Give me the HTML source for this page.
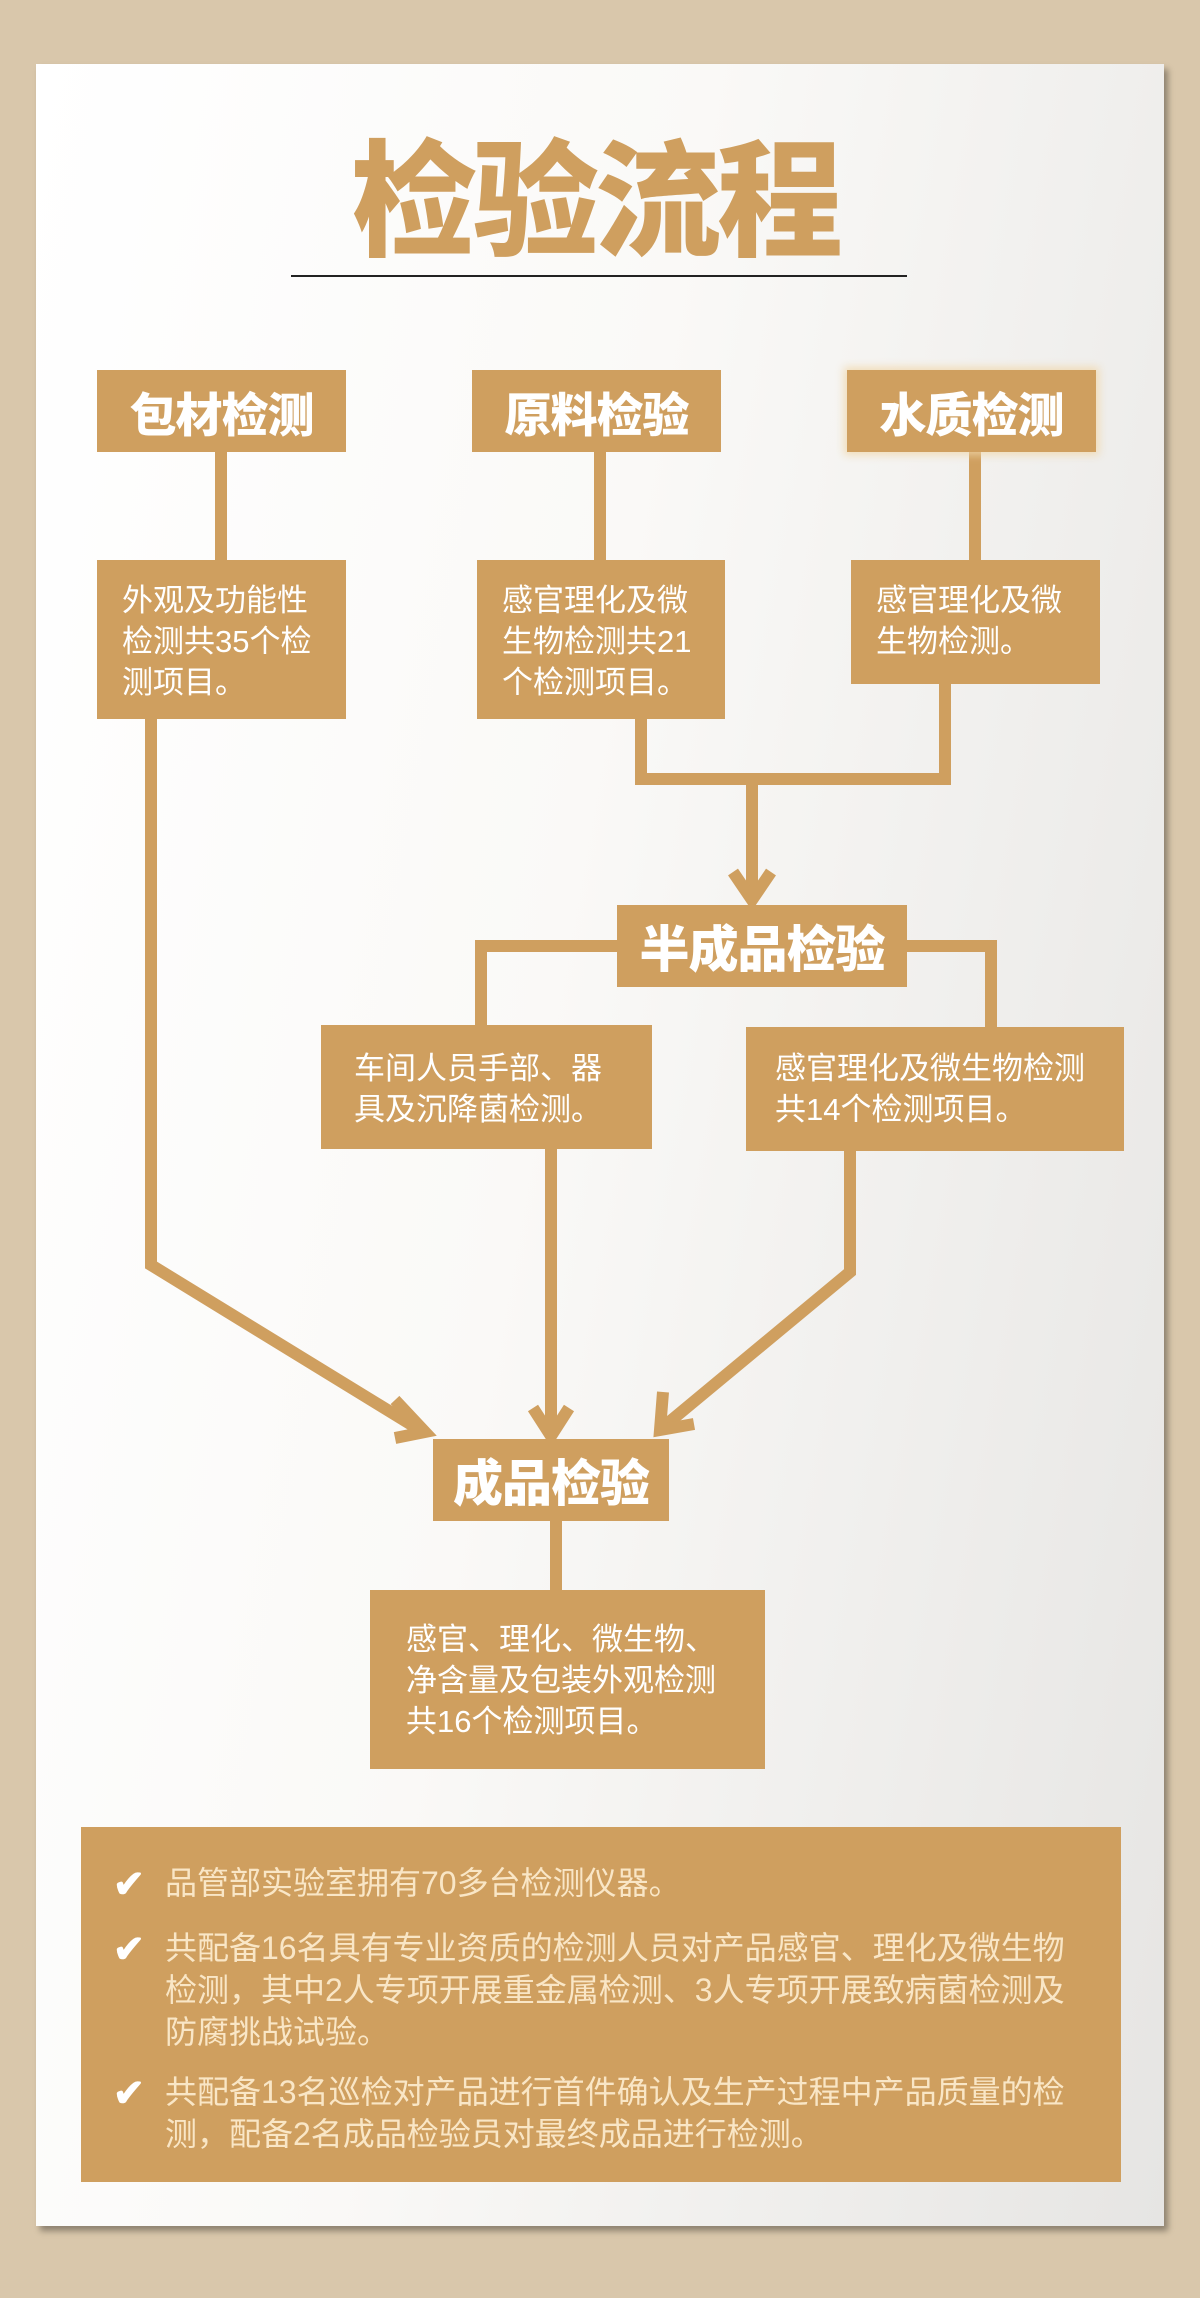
<!DOCTYPE html>
<html><head><meta charset="utf-8"><style>
*{margin:0;padding:0;box-sizing:border-box}
body{width:1200px;height:2298px;background:#d9c7ab;position:relative;overflow:hidden;font-family:"Liberation Sans","Noto Sans CJK SC",sans-serif}
.card{position:absolute;left:36px;top:64px;width:1128px;height:2162px;background:linear-gradient(100deg,#ffffff 0%,#faf9f7 45%,#e6e5e3 100%);box-shadow:4px 5px 6px rgba(0,0,0,.35)}
.b{position:absolute;background:#cf9f5f;color:#fff}
.h{font-weight:900;font-size:47px;display:flex;align-items:center;justify-content:center;letter-spacing:-1px}
.d{font-size:31px;line-height:41px;padding-left:25px;padding-top:20px}
.title{position:absolute;left:290px;width:610px;top:128px;text-align:center;font-size:126px;font-weight:900;color:#cf9f5f;line-height:150px;letter-spacing:-4px}
.line{position:absolute;left:291px;width:616px;top:275px;height:1.5px;background:#222}
.bot{position:absolute;left:81px;top:1827px;width:1040px;height:355px;background:#cf9f5f;color:#f9e6c6;font-size:32px;line-height:42px}
.it{position:absolute;left:84px;width:915px}
.ck{position:absolute;left:-52px;top:2px;color:#fff;font-size:38px;font-weight:bold}
</style></head><body>
<div class="card"></div>
<div class="title">检验流程</div>
<div class="line"></div>
<svg width="1200" height="2298" style="position:absolute;left:0;top:0">
<g stroke="#cf9f5f" stroke-width="12" fill="none">
<line x1="221" y1="450" x2="221" y2="562"/>
<line x1="600" y1="450" x2="600" y2="562"/>
<line x1="975" y1="450" x2="975" y2="562"/>
<polyline points="641,718 641,779 945,779 945,683"/>
<line x1="752" y1="779" x2="752" y2="900"/>
<polyline points="733,872 752,900 771,872"/>
<polyline points="619,946 481,946 481,1027"/>
<polyline points="906,946 991,946 991,1029"/>
<polyline points="151,718 151,1265 420,1430"/>
<polyline points="395,1400 425,1432 395,1438"/>
<line x1="551" y1="1149" x2="551" y2="1436"/>
<polyline points="533,1408 551,1436 569,1408"/>
<polyline points="850,1151 850,1272 662,1428"/>
<polyline points="663,1392 660,1430 694,1424"/>
<line x1="556" y1="1520" x2="556" y2="1592"/>
</g></svg>
<div class="b h" style="left:97px;top:370px;width:249px;height:82px">包材检测</div>
<div class="b h" style="left:472px;top:370px;width:249px;height:82px">原料检验</div>
<div class="b h" style="left:847px;top:370px;width:249px;height:82px;box-shadow:0 0 8px 3px rgba(240,215,170,.8)">水质检测</div>
<div class="b d" style="left:97px;top:560px;width:249px;height:159px">外观及功能性<br>检测共35个检<br>测项目。</div>
<div class="b d" style="left:477px;top:560px;width:248px;height:159px">感官理化及微<br>生物检测共21<br>个检测项目。</div>
<div class="b d" style="left:851px;top:560px;width:249px;height:124px">感官理化及微<br>生物检测。</div>
<div class="b h" style="left:617px;top:905px;width:290px;height:82px;font-size:50px">半成品检验</div>
<div class="b d" style="left:321px;top:1025px;width:331px;height:124px;padding-left:33px;padding-top:23px">车间人员手部、器<br>具及沉降菌检测。</div>
<div class="b d" style="left:746px;top:1027px;width:378px;height:124px;padding-left:29px;padding-top:21px">感官理化及微生物检测<br>共14个检测项目。</div>
<div class="b h" style="left:433px;top:1439px;width:236px;height:82px;font-size:50px">成品检验</div>
<div class="b d" style="left:370px;top:1590px;width:395px;height:179px;padding-left:36px;padding-top:29px">感官、理化、微生物、<br>净含量及包装外观检测<br>共16个检测项目。</div>
<div class="bot">
<div class="it" style="top:35px"><span class="ck">✔</span>品管部实验室拥有70多台检测仪器。</div>
<div class="it" style="top:100px"><span class="ck">✔</span>共配备16名具有专业资质的检测人员对产品感官、理化及微生物<br>检测，其中2人专项开展重金属检测、3人专项开展致病菌检测及<br>防腐挑战试验。</div>
<div class="it" style="top:244px"><span class="ck">✔</span>共配备13名巡检对产品进行首件确认及生产过程中产品质量的检<br>测，配备2名成品检验员对最终成品进行检测。</div>
</div>
</body></html>
